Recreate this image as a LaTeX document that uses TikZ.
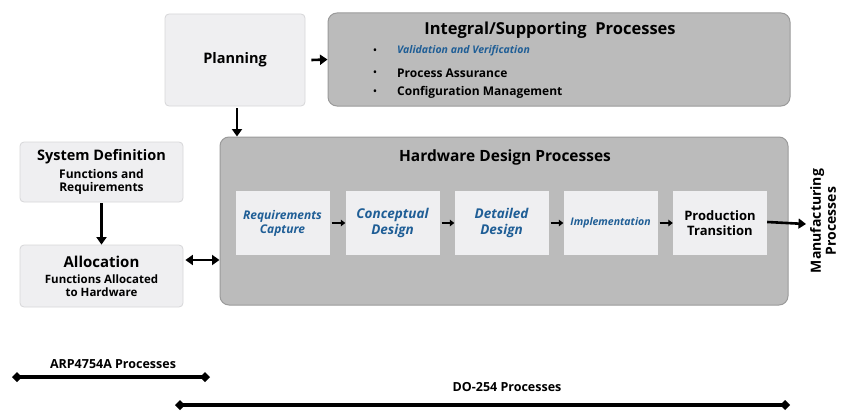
\documentclass[tikz,border=0pt]{standalone}
\usepackage{fontspec}
\setmainfont{Open Sans}
\usetikzlibrary{arrows.meta}
\definecolor{boxlight}{HTML}{EFEFF1}
\definecolor{boxedge}{HTML}{D6D6D8}
\definecolor{panel}{HTML}{BBBBBB}
\definecolor{panededge}{HTML}{9A9A9A}
\definecolor{stepblue}{HTML}{1F5E96}
\newcommand{\fs}[1]{\bfseries\fontsize{#1}{#1}\selectfont}
\tikzset{
  lightbox/.style={draw=boxedge, fill=boxlight, rounded corners=4pt, line width=0.8pt},
  panelbox/.style={draw=panededge, fill=panel, rounded corners=9pt, line width=1pt},
  stagebox/.style={draw=none, fill=boxlight, minimum width=94pt, minimum height=64pt, align=center, inner sep=1pt},
  flow/.style={line width=2.6pt, -{Triangle[length=7.5pt,width=10pt]}},
  smallflow/.style={line width=1.9pt, -{Triangle[length=4.5pt,width=6.5pt]}},
  span/.style={line width=3.2pt, {Diamond[length=10pt,width=10pt]}-{Diamond[length=10pt,width=10pt]}},
  bluetext/.style={text=stepblue, font=\fs{12}\itshape}
}
\begin{document}
\begin{tikzpicture}[x=1pt,y=-1pt]
\useasboundingbox (0,0) rectangle (842,412);

% Planning and integral processes
\node[lightbox, minimum width=140pt, minimum height=92pt, font=\fs{14.5}] (plan) at (235,60) {Planning};
\node[panelbox, minimum width=462pt, minimum height=93pt] (integral) at (559,59.5) {};
\node[font=\fs{16.5}] (inttitle) at (550,30) {Integral/Supporting\ \ Processes};
\node[font=\fs{9}] (b1) at (375,51) {\textbullet};
\node[font=\fs{9}] (b2) at (375,73) {\textbullet};
\node[font=\fs{9}] (b3) at (375,92) {\textbullet};
\node[anchor=west, inner sep=0pt, text=stepblue, font=\fs{10.5}\itshape] (vv) at (397,51) {Validation and Verification};
\node[anchor=west, inner sep=0pt, font=\fs{12}] (pa) at (397,73) {Process Assurance};
\node[anchor=west, inner sep=0pt, font=\fs{12}] (cm) at (397,92) {Configuration Management};

% Hardware design processes
\node[panelbox, minimum width=568pt, minimum height=168pt] (hw) at (504,221) {};
\node[font=\fs{15.5}] (hwtitle) at (505,157) {Hardware Design Processes};
\node[stagebox, bluetext, font=\fs{12}\itshape] (rc) at (282.5,223) {Requirements\\[2pt]Capture};
\node[stagebox, bluetext, font=\fs{13.5}\itshape] (cd) at (392.5,223) {Conceptual\\[2pt]Design};
\node[stagebox, bluetext, font=\fs{13.5}\itshape] (dd) at (501.5,223) {Detailed\\[2pt]Design};
\node[stagebox, text=stepblue, font=\fs{10.5}\itshape] (im) at (610.5,223) {Implementation};
\node[stagebox, font=\fs{13}] (pt) at (720,223) {Production\\[2pt]Transition};

% System level boxes
\node[lightbox, minimum width=163pt, minimum height=60pt, align=center] (sysdef) at (101.5,172)
  {{\fs{14.5}System Definition}\\[4pt]{\fs{12}Functions and}\\[1pt]{\fs{12}Requirements}};
\node[lightbox, minimum width=163pt, minimum height=62pt, align=center] (alloc) at (101.5,276)
  {{\fs{15}Allocation}\\[4pt]{\fs{11.5}Functions Allocated}\\[1pt]{\fs{11.5}to Hardware}};

% Manufacturing output
\node[rotate=90, align=center, font=\fs{14}] (mfg) at (823,221) {Manufacturing\\[1pt]Processes};
\coordinate (mfgin) at (806,224);

% Connectors
\draw[flow] (plan.east) ++(6pt,0) coordinate (pe) -- (integral.west);
\draw[flow] (plan.south) ++(2pt,-2pt) coordinate (ps) -- (ps |- hw.north);
\draw[flow] (sysdef.south) ++(0,-1pt) coordinate (ss) -- (alloc.north);
\draw[line width=2.8pt, {Triangle[length=7.5pt,width=10pt]}-{Triangle[length=7.5pt,width=10pt]}] (alloc.east) ++(2pt,16pt) coordinate (ae) -- (ae -| hw.west);
\draw[smallflow] (rc.east) ++(2pt,0) coordinate (r1) -- (cd.west);
\draw[smallflow] (cd.east) ++(2pt,0) coordinate (r2) -- (dd.west);
\draw[smallflow] (dd.east) ++(2pt,0) coordinate (r3) -- (im.west);
\draw[smallflow] (im.east) ++(2pt,0) coordinate (r4) -- (pt.west);
\draw[flow] (pt.east) ++(0,1pt) coordinate (po) -- (mfgin);

% Process spans
\node[font=\fs{12.5}] (arp) at (113,364) {ARP4754A Processes};
\coordinate (arpL) at (12,377);
\coordinate (arpR) at (210,377);
\draw[span] (arpL) -- (arpR);
\node[font=\fs{12.5}] (do) at (507,387) {DO-254 Processes};
\coordinate (doL) at (175,405);
\coordinate (doR) at (790,405);
\draw[span] (doL) -- (doR);
\end{tikzpicture}
\end{document}
